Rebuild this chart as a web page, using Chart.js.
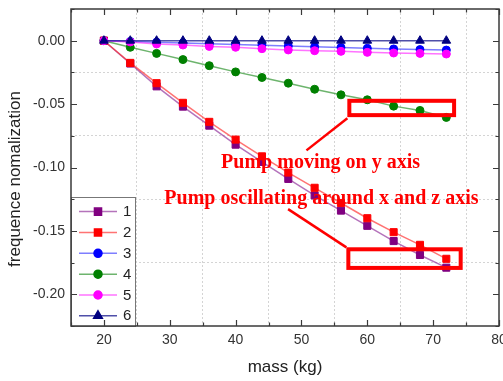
<!DOCTYPE html>
<html><head><meta charset="utf-8">
<script src="https://cdn.jsdelivr.net/npm/chart.js@4/dist/chart.umd.min.js"></script>
<style>
html,body{margin:0;padding:0;overflow:hidden;background:#fff;width:503px;height:381px}
#wrap{width:503px;height:381px;overflow:hidden;position:relative}
canvas{display:block}
</style></head><body>
<div id="wrap"><canvas id="c" width="524" height="381"></canvas></div>
<script>
// ---- data ----
const masses = [20,24,28,32,36,40,44,48,52,56,60,64,68,72];
const series1 = [0,-0.0180,-0.0360,-0.0520,-0.0670,-0.0820,-0.0956,-0.1090,-0.1220,-0.1340,-0.1460,-0.1580,-0.1690,-0.1790];
const series2 = [0,-0.0175,-0.0335,-0.0490,-0.0640,-0.0780,-0.0912,-0.1040,-0.1160,-0.1280,-0.1400,-0.1510,-0.1610,-0.1720];
const series3 = [0,-0.0006,-0.0012,-0.0018,-0.0025,-0.0030,-0.0036,-0.0042,-0.0048,-0.0054,-0.0060,-0.0065,-0.0070,-0.0074];
const series4 = [0,-0.0052,-0.0100,-0.0149,-0.0197,-0.0246,-0.0290,-0.0335,-0.0383,-0.0427,-0.0466,-0.0516,-0.0550,-0.0605];
const series5 = [0,-0.0010,-0.0026,-0.0034,-0.0045,-0.0052,-0.0063,-0.0073,-0.0079,-0.0084,-0.0092,-0.0097,-0.0100,-0.0105];
const series6 = [0,0,0,0,0,0,0,0,0,0,0,0,0,0];
const seriesNames = ['1','2','3','4','5','6'];
const xTickValues = [20,30,40,50,60,70,80];
const yTickValues = [0,-0.05,-0.10,-0.15,-0.20];
const xTitle = 'mass (kg)';
const yTitle = 'frequence nomalization';
const noteTexts = ['Pump moving on y axis','Pump oscillating around x and z axis'];

// ---- styles / annotation geometry (data coordinates) ----
const allSeries = [series1,series2,series3,series4,series5,series6];
const styles = [
  {line:'rgba(140,40,150,0.65)', fill:'#800080', shape:'rect', r:5},
  {line:'rgba(255,40,40,0.65)', fill:'#ff0000', shape:'rect', r:5},
  {line:'rgba(40,40,255,0.6)', fill:'#0000ff', shape:'circle', r:4},
  {line:'rgba(30,140,30,0.65)', fill:'#008000', shape:'circle', r:4},
  {line:'rgba(255,40,255,0.65)', fill:'#ff00ff', shape:'circle', r:4},
  {line:'rgba(20,20,140,0.75)', fill:'#000080', shape:'triangle', r:5}
];
const noteBoxes = [{x0:57.27,x1:73.18,y0:-0.0474,y1:-0.0587},{x0:57.12,x1:74.18,y0:-0.1645,y1:-0.1792}];
const noteLines = [[56.97,-0.0611,50.76,-0.0865],[47.97,-0.1328,56.82,-0.1630]];
const notePos = [{x:52.9,y:-0.1001},{x:53.03,y:-0.1284}];

const FONT = "'Liberation Sans', Arial, sans-serif";
const isMajorY = v => Math.round(v*1000) % 50 === 0;
const isMajorX = v => Math.round(v) % 10 === 0;

const datasets = allSeries.map((s,i)=>({
  label: seriesNames[i],
  data: masses.map((m,j)=>({x:m,y:s[j]})),
  borderColor: styles[i].line,
  borderWidth: 1.5,
  backgroundColor: styles[i].fill,
  pointBackgroundColor: styles[i].fill,
  pointBorderColor: styles[i].fill,
  pointBorderWidth: 1,
  pointStyle: styles[i].shape,
  pointRadius: styles[i].r,
  tension: 0,
  order: 6 - i
}));

const decor = {
  id:'decor',
  afterDatasetsDraw(chart){
    const {ctx, chartArea:a, scales:{x,y}} = chart;
    ctx.save();
    // annotations
    ctx.strokeStyle = '#ff0000';
    ctx.lineWidth = 4;
    noteBoxes.forEach(b=>{
      const px0 = x.getPixelForValue(b.x0), px1 = x.getPixelForValue(b.x1);
      const py0 = y.getPixelForValue(b.y0), py1 = y.getPixelForValue(b.y1);
      ctx.strokeRect(px0, py0, px1-px0, py1-py0);
    });
    ctx.lineWidth = 2.5;
    noteLines.forEach(l=>{
      ctx.beginPath();
      ctx.moveTo(x.getPixelForValue(l[0]), y.getPixelForValue(l[1]));
      ctx.lineTo(x.getPixelForValue(l[2]), y.getPixelForValue(l[3]));
      ctx.stroke();
    });
    ctx.fillStyle = '#ff0000';
    ctx.font = "bold 20px 'Liberation Serif', 'Times New Roman', serif";
    ctx.textAlign = 'center';
    ctx.textBaseline = 'alphabetic';
    noteTexts.forEach((t,i)=>{
      ctx.fillText(t, x.getPixelForValue(notePos[i].x), y.getPixelForValue(notePos[i].y));
    });

    // legend
    const lx0 = a.left, ly0 = 197, lx1 = 136, ly1 = a.bottom;
    ctx.fillStyle = '#fff';
    ctx.fillRect(lx0, ly0, lx1-lx0, ly1-ly0);
    ctx.strokeStyle = '#777';
    ctx.lineWidth = 1;
    ctx.strokeRect(lx0+0.5, ly0+0.5, lx1-lx0-1, ly1-ly0);
    ctx.font = '15px ' + FONT;
    ctx.textAlign = 'left';
    ctx.textBaseline = 'middle';
    seriesNames.forEach((n,i)=>{
      const cy = 211.6 + i*20.85;
      ctx.strokeStyle = styles[i].line;
      ctx.lineWidth = 1.5;
      ctx.beginPath(); ctx.moveTo(79, cy); ctx.lineTo(117, cy); ctx.stroke();
      ctx.fillStyle = styles[i].fill;
      ctx.strokeStyle = styles[i].fill;
      Chart.helpers.drawPoint(ctx, {pointStyle: styles[i].shape, radius: styles[i].r, borderWidth:1, rotation:0}, 98, cy);
      ctx.fillStyle = '#222';
      ctx.fillText(n, 123, cy + 0.5);
    });

    // frame
    ctx.strokeStyle = '#3a3a3a';
    ctx.lineWidth = 1.5;
    ctx.strokeRect(a.left, a.top, a.right-a.left, a.bottom-a.top);
    // inward ticks
    ctx.lineWidth = 1.2;
    ctx.beginPath();
    for (let v = 15; v <= 80.001; v += 5) {
      const px = Math.round(x.getPixelForValue(v)) + 0.5;
      const len = isMajorX(v) ? 6 : 3.5;
      ctx.moveTo(px, a.bottom); ctx.lineTo(px, a.bottom - len);
      ctx.moveTo(px, a.top); ctx.lineTo(px, a.top + len);
    }
    for (let k = -225; k <= 25; k += 25) {
      const v = k/1000;
      const py = Math.round(y.getPixelForValue(v)) + 0.5;
      const len = isMajorY(v) ? 6 : 3.5;
      ctx.moveTo(a.left, py); ctx.lineTo(a.left + len, py);
      ctx.moveTo(a.right, py); ctx.lineTo(a.right - len, py);
    }
    ctx.stroke();

    // y title
    ctx.save();
    ctx.translate(15, 179);
    ctx.rotate(-Math.PI/2);
    ctx.font = '17px ' + FONT;
    ctx.fillStyle = '#222';
    ctx.textAlign = 'center';
    ctx.textBaseline = 'middle';
    ctx.fillText(yTitle, 0, 0);
    ctx.restore();
    ctx.restore();
  }
};

new Chart(document.getElementById('c'), {
  type:'line',
  data:{datasets},
  plugins:[decor],
  options:{
    responsive:false,
    animation:false,
    layout:{padding:{left:0, top:9, right:524-499, bottom:0}},
    plugins:{legend:{display:false}, tooltip:{enabled:false}},
    scales:{
      x:{
        type:'linear', min:15, max:80,
        afterFit(s){ s.height = 55; s.paddingLeft = 0; s.paddingRight = 0; s.paddingTop = 0; s.paddingBottom = 0; },
        afterBuildTicks(s){ const t=[]; for(let v=15; v<=80.001; v+=5) t.push({value:v}); s.ticks = t; },
        ticks:{autoSkip:false, maxRotation:0, padding:6, color:'#333', font:{family:FONT, size:14},
          callback:(v)=> xTickValues.includes(Math.round(v)) && isMajorX(v) ? String(Math.round(v)) : ''},
        grid:{drawTicks:false, lineWidth:1,
          color:(c)=>{ const v=c.tick ? c.tick.value : 0; return (!isMajorX(v) && v>15.5 && v<79.5) ? '#d4d4d4' : 'rgba(0,0,0,0)'; }},
        border:{display:false, dash:[2,2]},
        title:{display:true, text:xTitle, color:'#222', font:{family:FONT, size:17}, padding:{top:0, bottom:3}}
      },
      y:{
        type:'linear', min:-0.225, max:0.025,
        afterFit(s){ s.width = 71; s.paddingTop = 0; s.paddingBottom = 0; s.paddingLeft = 0; s.paddingRight = 0; },
        afterBuildTicks(s){ const t=[]; for(let k=-225; k<=25; k+=25) t.push({value:k/1000}); s.ticks = t; },
        ticks:{autoSkip:false, padding:6, color:'#333', font:{family:FONT, size:14},
          callback:(v)=>{ const k=Math.round(v*1000); const m = yTickValues.find(t=>Math.round(t*1000)===k); return m!==undefined ? (k===0 ? '0.00' : m.toFixed(2)) : ''; }},
        grid:{drawTicks:false, lineWidth:1,
          color:(c)=>{ const v=c.tick ? c.tick.value : 0; const k=Math.round(v*1000); return (k%50!==0 && k>-225 && k<25) ? '#d4d4d4' : 'rgba(0,0,0,0)'; }},
        border:{display:false, dash:[2,2]},
        title:{display:false}
      }
    }
  }
});
</script>
</body></html>
